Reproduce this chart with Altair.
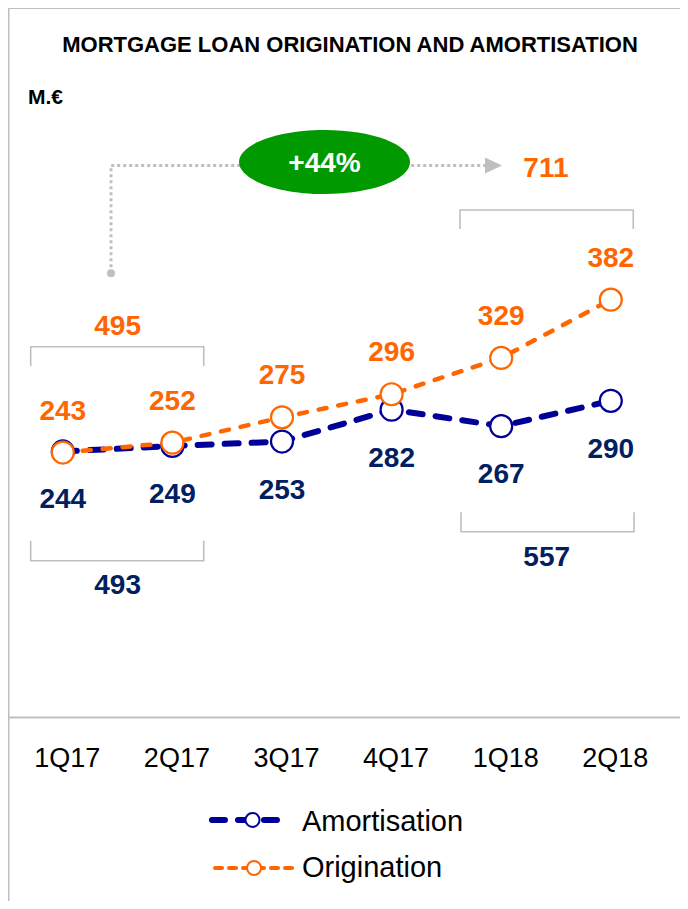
import altair as alt
import pandas as pd

# ---------------- data ----------------
quarters = ["1Q17", "2Q17", "3Q17", "4Q17", "1Q18", "2Q18"]
amortisation = [244, 249, 253, 282, 267, 290]
origination = [243, 252, 275, 296, 329, 382]
series_names = ["Amortisation", "Origination"]
sum_origination = [495, 711]      # 1Q17+2Q17, 1Q18+2Q18
sum_amortisation = [493, 557]     # 1Q17+2Q17, 1Q18+2Q18
growth_label = "+44%"
title_text = "MORTGAGE LOAN ORIGINATION AND AMORTISATION"
unit_text = "M.€"

# ---------------- styles ----------------
NAVY_LINE = "#000099"
NAVY_TEXT = "#002060"
ORANGE = "#FF6600"
GREEN = "#009900"
GRAY = "#BFBFBF"
FONT = "Liberation Sans"

W, H = 672, 893
x_scale = alt.Scale(domain=[-0.5, 5.6314], nice=False, zero=False)
y_scale = alt.Scale(domain=[-164.68, 647.14], nice=False, zero=False)

label_expr = "[" + ",".join(f"'{q}'" for q in quarters) + "][datum.value]"
x_axis = alt.Axis(values=list(range(len(quarters))), labelExpr=label_expr, title=None,
                  grid=False, ticks=False, tickSize=0, domainColor=GRAY, domainWidth=2,
                  labelFont=FONT, labelFontSize=27, labelColor="black", labelPadding=28,
                  labelOffset=4, offset=-184, labelAngle=0, labelFlush=False)
y_axis = alt.Axis(labels=False, ticks=False, tickSize=0, grid=False, title=None,
                  domainColor=GRAY, domainWidth=2)

X = alt.X("i:Q", scale=x_scale, axis=x_axis)
Y = alt.Y("v:Q", scale=y_scale, axis=y_axis)

idx = list(range(len(quarters)))
amort_df = pd.DataFrame({"i": idx, "v": amortisation, "q": quarters})
orig_df = pd.DataFrame({"i": idx, "v": origination, "q": quarters})

# ---------------- annotations (data coordinates) ----------------
bracket_specs = [  # x0, x1, y of bar, y of ends
    (-0.293, 1.286, 339.2, 321.7),
    (-0.293, 1.286, 144.7, 162.9),
    (3.624, 5.205, 463.5, 446.2),
    (3.633, 5.212, 171.0, 188.7),
]
rows = []
for b, (x0, x1, yl, ye) in enumerate(bracket_specs):
    for k, (xx, yy) in enumerate([(x0, ye), (x0, yl), (x1, yl), (x1, ye)]):
        rows.append({"b": b, "k": k, "i": xx, "v": yy})
bracket_df = pd.DataFrame(rows)

sums_df = pd.DataFrame({
    "i": [0.5, 4.408, 0.5, 4.415],
    "v": [358.0, 502.1, 122.6, 148.3],
    "t": [sum_origination[0], sum_origination[1], sum_amortisation[0], sum_amortisation[1]],
    "c": [ORANGE, ORANGE, NAVY_TEXT, NAVY_TEXT],
})

conn_df = pd.DataFrame({"i": [0.4398, 0.4398, 3.861], "v": [406.0, 504.0, 504.0], "k": [0, 1, 2]})
dot_df = conn_df.iloc[[0]]
arrow_df = pd.DataFrame({"i": [3.930], "v": [504.0]})
ellipse_df = pd.DataFrame({"i": [2.388], "v": [507.1], "t": [growth_label]})

leg_line_amort = pd.DataFrame({"i": [1.361, 2.055], "v": [-91.0, -91.0]})
leg_line_orig = pd.DataFrame({"i": [1.389, 2.119], "v": [-134.7, -134.7]})
leg_pt_amort = pd.DataFrame({"i": [1.731], "v": [-91.0]})
leg_pt_orig = pd.DataFrame({"i": [1.745], "v": [-134.7]})
leg_text = pd.DataFrame({"i": [2.182, 2.182], "v": [-100.8, -142.9], "t": series_names})

# ---------------- layers ----------------
border_top = alt.Chart(pd.DataFrame({"a": [0]})).mark_rule(color=GRAY, strokeWidth=2).encode(
    x=alt.value(0), x2=alt.value(W), y=alt.value(0))

title = alt.Chart(pd.DataFrame({"a": [0]})).mark_text(
    text=title_text, font=FONT, fontSize=22, fontWeight="bold", color="black",
    align="center", baseline="alphabetic").encode(x=alt.value(342), y=alt.value(44))
unit = alt.Chart(pd.DataFrame({"a": [0]})).mark_text(
    text=unit_text, font=FONT, fontSize=21, fontWeight="bold", color="black",
    align="left", baseline="alphabetic").encode(x=alt.value(20), y=alt.value(96))

brackets = alt.Chart(bracket_df).mark_line(color=GRAY, strokeWidth=1.6, strokeJoin="round").encode(
    x=X, y=Y, detail="b:N", order="k:Q")

connector = alt.Chart(conn_df).mark_line(color=GRAY, strokeWidth=3, strokeDash=[3, 3]).encode(
    x=X, y=Y, order="k:Q")
dot = alt.Chart(dot_df).mark_point(shape="circle", filled=True, color=GRAY, size=64, opacity=1).encode(x=X, y=Y)
arrow = alt.Chart(arrow_df).mark_point(shape="M-1,-0.94 L1,0 L-1,0.94 Z", filled=True, color=GRAY,
                                       size=289, opacity=1).encode(x=X, y=Y)
ellipse = alt.Chart(ellipse_df).mark_point(
    shape="M-1,0 A1,0.374 0 1,1 1,0 A1,0.374 0 1,1 -1,0 Z", filled=True, color=GREEN,
    size=29241, opacity=1, strokeWidth=0).encode(x=X, y=Y)
ellipse_txt = alt.Chart(ellipse_df).mark_text(font=FONT, fontSize=28, fontWeight="bold", color="white",
                                              baseline="middle", dy=2).encode(x=X, y=Y, text="t:N")

sums = alt.Chart(sums_df).mark_text(font=FONT, fontSize=28, fontWeight="bold", baseline="middle", dy=1).encode(
    x=X, y=Y, text="t:Q", color=alt.Color("c:N", scale=None))

amort_line = alt.Chart(amort_df).mark_line(color=NAVY_LINE, strokeWidth=6, strokeDash=[14, 13],
                                           strokeCap="round").encode(x=X, y=Y)
amort_pts = alt.Chart(amort_df).mark_point(shape="circle", filled=True, fill="white", stroke=NAVY_LINE,
                                           strokeWidth=2.2, size=484, opacity=1).encode(x=X, y=Y)
amort_lbl = alt.Chart(amort_df).mark_text(font=FONT, fontSize=28, fontWeight="bold", color=NAVY_TEXT,
                                          baseline="middle", dy=49).encode(x=X, y=Y, text="v:Q")

orig_line = alt.Chart(orig_df).mark_line(color=ORANGE, strokeWidth=4.5, strokeDash=[8, 12],
                                         strokeCap="round").encode(x=X, y=Y)
orig_pts = alt.Chart(orig_df).mark_point(shape="circle", filled=True, fill="white", stroke=ORANGE,
                                         strokeWidth=2.2, size=484, opacity=1).encode(x=X, y=Y)
orig_lbl = alt.Chart(orig_df).mark_text(font=FONT, fontSize=28, fontWeight="bold", color=ORANGE,
                                        baseline="middle", dy=-41).encode(x=X, y=Y, text="v:Q")

leg_l1 = alt.Chart(leg_line_amort).mark_line(color=NAVY_LINE, strokeWidth=6, strokeDash=[13, 13],
                                             strokeCap="round").encode(x=X, y=Y)
leg_l2 = alt.Chart(leg_line_orig).mark_line(color=ORANGE, strokeWidth=4, strokeDash=[7, 7],
                                            strokeCap="round").encode(x=X, y=Y)
leg_p1 = alt.Chart(leg_pt_amort).mark_point(shape="circle", filled=True, fill="white", stroke=NAVY_LINE,
                                            strokeWidth=2, size=196, opacity=1).encode(x=X, y=Y)
leg_p2 = alt.Chart(leg_pt_orig).mark_point(shape="circle", filled=True, fill="white", stroke=ORANGE,
                                           strokeWidth=2, size=196, opacity=1).encode(x=X, y=Y)
leg_t = alt.Chart(leg_text).mark_text(font=FONT, fontSize=29, color="black", align="left",
                                      baseline="alphabetic").encode(x=X, y=Y, text="t:N")

chart = alt.layer(
    brackets, connector, dot, arrow, ellipse, ellipse_txt, sums,
    amort_line, amort_pts, amort_lbl, orig_line, orig_pts, orig_lbl,
    leg_l1, leg_l2, leg_p1, leg_p2, leg_t, border_top, title, unit,
).properties(
    width=W, height=H, autosize=alt.AutoSizeParams(type="none"), padding=0,
    background="white",
).configure_view(stroke=None)

chart.save("out.html", embed_options={"renderer": "svg", "actions": False})
